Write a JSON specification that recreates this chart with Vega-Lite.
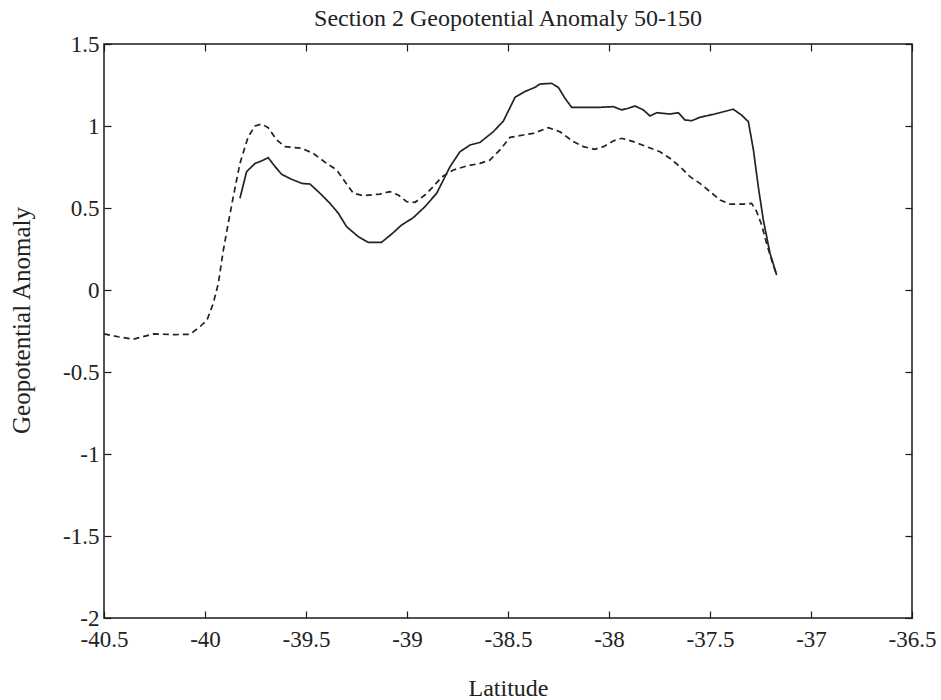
{
  "$schema": "https://vega.github.io/schema/vega-lite/v6.json",
  "width": 808,
  "height": 574,
  "autosize": "none",
  "padding": {"left": 104, "top": 44, "right": 29, "bottom": 82},
  "background": "white",
  "config": {
    "view": {"stroke": "#1a1a1a", "strokeWidth": 1.5},
    "font": "Liberation Serif",
    "axis": {
      "grid": false,
      "domain": false,
      "tickSize": -7,
      "tickColor": "#1a1a1a",
      "tickWidth": 1.2,
      "labelFont": "Liberation Serif",
      "labelFontSize": 23,
      "labelColor": "#222",
      "labelFlush": false,
      "labelOverlap": false,
      "titleFont": "Liberation Serif",
      "titleFontSize": 24,
      "titleFontWeight": "normal",
      "titleColor": "#222"
    }
  },
  "title": {
    "text": "Section 2 Geopotential Anomaly 50-150",
    "font": "Liberation Serif",
    "fontSize": 24,
    "fontWeight": "normal",
    "color": "#222",
    "baseline": "alphabetic",
    "anchor": "middle",
    "offset": -17
  },
  "data": {
    "values": [
      {"lat": -40.5, "val": -0.268, "s": "dashed"},
      {"lat": -40.43, "val": -0.285, "s": "dashed"},
      {"lat": -40.355, "val": -0.30, "s": "dashed"},
      {"lat": -40.256, "val": -0.268, "s": "dashed"},
      {"lat": -40.15, "val": -0.272, "s": "dashed"},
      {"lat": -40.074, "val": -0.27, "s": "dashed"},
      {"lat": -40.025, "val": -0.224, "s": "dashed"},
      {"lat": -39.99, "val": -0.183, "s": "dashed"},
      {"lat": -39.959, "val": -0.081, "s": "dashed"},
      {"lat": -39.934, "val": 0.04, "s": "dashed"},
      {"lat": -39.909, "val": 0.244, "s": "dashed"},
      {"lat": -39.885, "val": 0.407, "s": "dashed"},
      {"lat": -39.86, "val": 0.569, "s": "dashed"},
      {"lat": -39.827, "val": 0.772, "s": "dashed"},
      {"lat": -39.786, "val": 0.935, "s": "dashed"},
      {"lat": -39.752, "val": 1.0, "s": "dashed"},
      {"lat": -39.72, "val": 1.012, "s": "dashed"},
      {"lat": -39.687, "val": 0.99, "s": "dashed"},
      {"lat": -39.645, "val": 0.915, "s": "dashed"},
      {"lat": -39.604, "val": 0.874, "s": "dashed"},
      {"lat": -39.521, "val": 0.864, "s": "dashed"},
      {"lat": -39.464, "val": 0.833, "s": "dashed"},
      {"lat": -39.398, "val": 0.772, "s": "dashed"},
      {"lat": -39.348, "val": 0.732, "s": "dashed"},
      {"lat": -39.307, "val": 0.66, "s": "dashed"},
      {"lat": -39.266, "val": 0.59, "s": "dashed"},
      {"lat": -39.216, "val": 0.575, "s": "dashed"},
      {"lat": -39.134, "val": 0.585, "s": "dashed"},
      {"lat": -39.084, "val": 0.60, "s": "dashed"},
      {"lat": -39.043, "val": 0.579, "s": "dashed"},
      {"lat": -39.001, "val": 0.538, "s": "dashed"},
      {"lat": -38.96, "val": 0.535, "s": "dashed"},
      {"lat": -38.911, "val": 0.579, "s": "dashed"},
      {"lat": -38.87, "val": 0.63, "s": "dashed"},
      {"lat": -38.828, "val": 0.69, "s": "dashed"},
      {"lat": -38.77, "val": 0.732, "s": "dashed"},
      {"lat": -38.705, "val": 0.756, "s": "dashed"},
      {"lat": -38.639, "val": 0.772, "s": "dashed"},
      {"lat": -38.589, "val": 0.793, "s": "dashed"},
      {"lat": -38.54, "val": 0.854, "s": "dashed"},
      {"lat": -38.49, "val": 0.931, "s": "dashed"},
      {"lat": -38.424, "val": 0.945, "s": "dashed"},
      {"lat": -38.375, "val": 0.955, "s": "dashed"},
      {"lat": -38.3, "val": 0.99, "s": "dashed"},
      {"lat": -38.243, "val": 0.965, "s": "dashed"},
      {"lat": -38.177, "val": 0.905, "s": "dashed"},
      {"lat": -38.127, "val": 0.874, "s": "dashed"},
      {"lat": -38.07, "val": 0.858, "s": "dashed"},
      {"lat": -38.028, "val": 0.874, "s": "dashed"},
      {"lat": -37.979, "val": 0.909, "s": "dashed"},
      {"lat": -37.937, "val": 0.925, "s": "dashed"},
      {"lat": -37.88, "val": 0.905, "s": "dashed"},
      {"lat": -37.814, "val": 0.874, "s": "dashed"},
      {"lat": -37.748, "val": 0.843, "s": "dashed"},
      {"lat": -37.698, "val": 0.803, "s": "dashed"},
      {"lat": -37.649, "val": 0.752, "s": "dashed"},
      {"lat": -37.599, "val": 0.691, "s": "dashed"},
      {"lat": -37.55, "val": 0.65, "s": "dashed"},
      {"lat": -37.5, "val": 0.60, "s": "dashed"},
      {"lat": -37.45, "val": 0.549, "s": "dashed"},
      {"lat": -37.401, "val": 0.524, "s": "dashed"},
      {"lat": -37.335, "val": 0.524, "s": "dashed"},
      {"lat": -37.294, "val": 0.528, "s": "dashed"},
      {"lat": -37.269, "val": 0.478, "s": "dashed"},
      {"lat": -37.244, "val": 0.396, "s": "dashed"},
      {"lat": -37.22, "val": 0.285, "s": "dashed"},
      {"lat": -37.195, "val": 0.183, "s": "dashed"},
      {"lat": -37.17, "val": 0.091, "s": "dashed"},
      {"lat": -39.827, "val": 0.559, "s": "solid"},
      {"lat": -39.794, "val": 0.722, "s": "solid"},
      {"lat": -39.752, "val": 0.772, "s": "solid"},
      {"lat": -39.72, "val": 0.787, "s": "solid"},
      {"lat": -39.687, "val": 0.807, "s": "solid"},
      {"lat": -39.653, "val": 0.752, "s": "solid"},
      {"lat": -39.62, "val": 0.705, "s": "solid"},
      {"lat": -39.571, "val": 0.675, "s": "solid"},
      {"lat": -39.521, "val": 0.65, "s": "solid"},
      {"lat": -39.48, "val": 0.646, "s": "solid"},
      {"lat": -39.431, "val": 0.59, "s": "solid"},
      {"lat": -39.381, "val": 0.528, "s": "solid"},
      {"lat": -39.34, "val": 0.468, "s": "solid"},
      {"lat": -39.299, "val": 0.386, "s": "solid"},
      {"lat": -39.241, "val": 0.325, "s": "solid"},
      {"lat": -39.192, "val": 0.291, "s": "solid"},
      {"lat": -39.126, "val": 0.291, "s": "solid"},
      {"lat": -39.076, "val": 0.341, "s": "solid"},
      {"lat": -39.027, "val": 0.396, "s": "solid"},
      {"lat": -38.969, "val": 0.441, "s": "solid"},
      {"lat": -38.911, "val": 0.508, "s": "solid"},
      {"lat": -38.853, "val": 0.59, "s": "solid"},
      {"lat": -38.787, "val": 0.752, "s": "solid"},
      {"lat": -38.738, "val": 0.843, "s": "solid"},
      {"lat": -38.688, "val": 0.884, "s": "solid"},
      {"lat": -38.639, "val": 0.9, "s": "solid"},
      {"lat": -38.573, "val": 0.965, "s": "solid"},
      {"lat": -38.523, "val": 1.03, "s": "solid"},
      {"lat": -38.465, "val": 1.175, "s": "solid"},
      {"lat": -38.416, "val": 1.21, "s": "solid"},
      {"lat": -38.366, "val": 1.236, "s": "solid"},
      {"lat": -38.342, "val": 1.256, "s": "solid"},
      {"lat": -38.284, "val": 1.26, "s": "solid"},
      {"lat": -38.251, "val": 1.236, "s": "solid"},
      {"lat": -38.218, "val": 1.169, "s": "solid"},
      {"lat": -38.185, "val": 1.114, "s": "solid"},
      {"lat": -38.11, "val": 1.114, "s": "solid"},
      {"lat": -38.045, "val": 1.114, "s": "solid"},
      {"lat": -37.979, "val": 1.118, "s": "solid"},
      {"lat": -37.937, "val": 1.098, "s": "solid"},
      {"lat": -37.905, "val": 1.108, "s": "solid"},
      {"lat": -37.871, "val": 1.122, "s": "solid"},
      {"lat": -37.83, "val": 1.098, "s": "solid"},
      {"lat": -37.797, "val": 1.061, "s": "solid"},
      {"lat": -37.764, "val": 1.081, "s": "solid"},
      {"lat": -37.698, "val": 1.073, "s": "solid"},
      {"lat": -37.657, "val": 1.081, "s": "solid"},
      {"lat": -37.624, "val": 1.037, "s": "solid"},
      {"lat": -37.591, "val": 1.032, "s": "solid"},
      {"lat": -37.55, "val": 1.053, "s": "solid"},
      {"lat": -37.484, "val": 1.071, "s": "solid"},
      {"lat": -37.385, "val": 1.102, "s": "solid"},
      {"lat": -37.344, "val": 1.067, "s": "solid"},
      {"lat": -37.31, "val": 1.026, "s": "solid"},
      {"lat": -37.285, "val": 0.854, "s": "solid"},
      {"lat": -37.261, "val": 0.63, "s": "solid"},
      {"lat": -37.236, "val": 0.427, "s": "solid"},
      {"lat": -37.203, "val": 0.224, "s": "solid"},
      {"lat": -37.17, "val": 0.091, "s": "solid"}
    ]
  },
  "layer": [
    {
      "mark": {"type": "line", "strokeWidth": 1.7, "color": "#222"},
      "encoding": {
        "x": {
          "field": "lat", "type": "quantitative",
          "scale": {"domain": [-40.5, -36.5], "nice": false, "zero": false},
          "axis": {
            "orient": "bottom",
            "values": [-40.5, -40, -39.5, -39, -38.5, -38, -37.5, -37, -36.5],
            "labelExpr": "'' + datum.value",
            "labelPadding": 17,
            "title": "Latitude",
            "titleX": 404,
            "titleY": 77,
            "titleBaseline": "alphabetic",
            "titleAnchor": null,
            "titleAlign": "center"
          }
        },
        "y": {
          "field": "val", "type": "quantitative",
          "scale": {"domain": [-2, 1.5], "nice": false, "zero": false},
          "axis": {
            "orient": "left",
            "values": [-2, -1.5, -1, -0.5, 0, 0.5, 1, 1.5],
            "labelExpr": "'' + datum.value",
            "labelPadding": 12,
            "labelBaseline": "middle",
            "title": "Geopotential Anomaly",
            "titleFontSize": 25,
            "titleX": -83,
            "titleY": 276,
            "titleAngle": -90,
            "titleBaseline": "middle",
            "titleAnchor": null,
            "titleAlign": "center"
          }
        },
        "strokeDash": {
          "field": "s", "type": "nominal",
          "scale": {"domain": ["solid", "dashed"], "range": [[1, 0], [6, 4]]},
          "legend": null
        }
      }
    },
    {
      "mark": {"type": "line", "opacity": 0},
      "encoding": {
        "x": {
          "field": "lat", "type": "quantitative",
          "axis": {
            "orient": "top",
            "values": [-40.5, -40, -39.5, -39, -38.5, -38, -37.5, -37, -36.5],
            "labels": false,
            "title": null
          }
        },
        "y": {
          "field": "val", "type": "quantitative",
          "axis": {
            "orient": "right",
            "values": [-2, -1.5, -1, -0.5, 0, 0.5, 1, 1.5],
            "labels": false,
            "title": null
          }
        },
        "detail": {"field": "s", "type": "nominal"}
      }
    }
  ],
  "resolve": {"axis": {"x": "independent", "y": "independent"}}
}
